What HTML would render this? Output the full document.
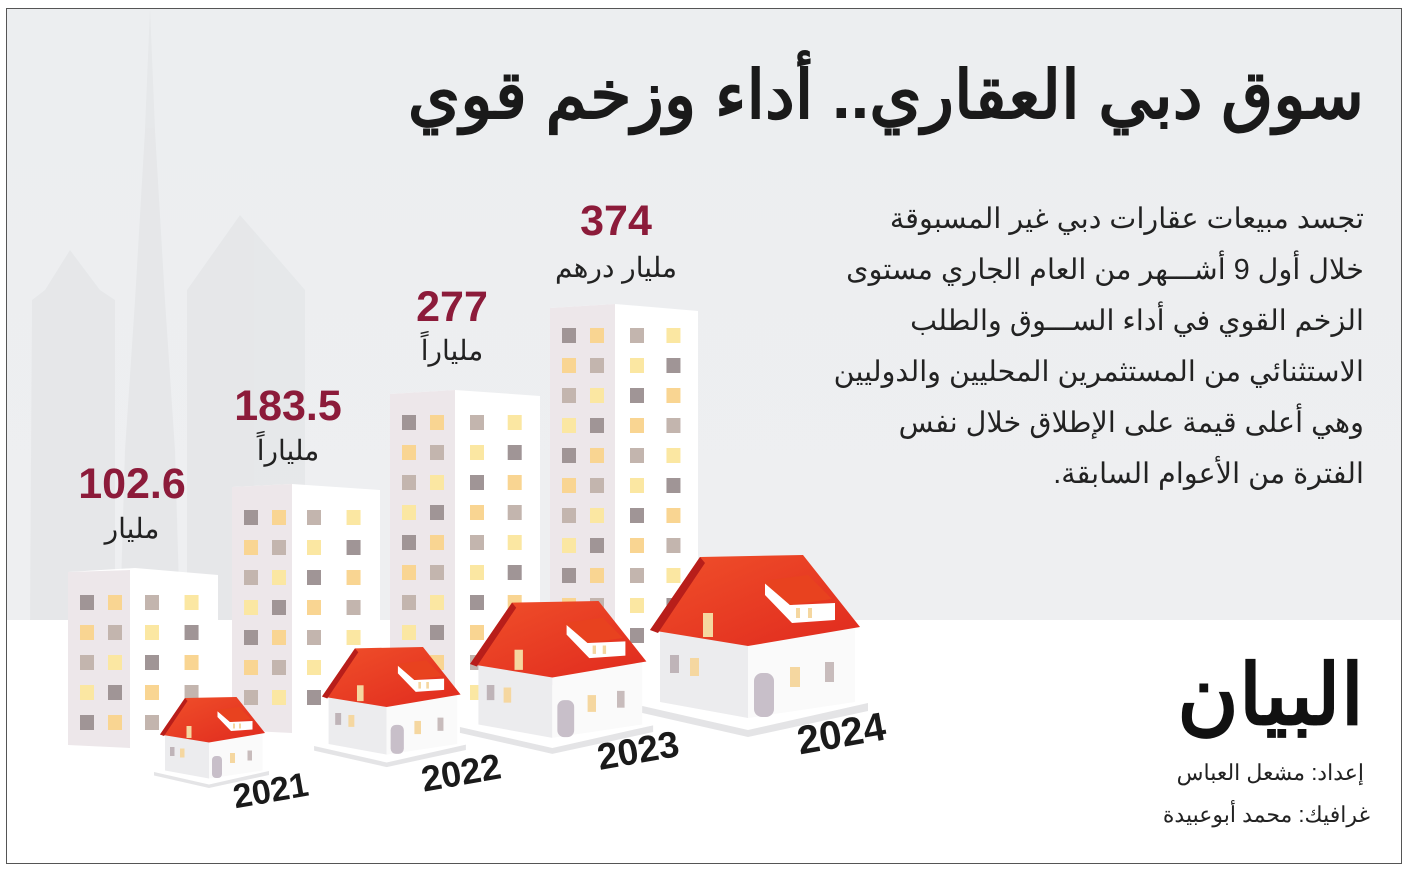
<!DOCTYPE html>
<html><head><meta charset="utf-8"><style>
html,body{margin:0;padding:0;background:#fff}
body{width:1408px;height:871px;position:relative;overflow:hidden;font-family:"Liberation Sans","Noto Sans CJK SC",sans-serif}
.t{position:absolute;white-space:nowrap}
</style></head><body>
<svg width="1408" height="871" style="position:absolute;left:0;top:0">
<defs>
<linearGradient id="bg" x1="0" y1="0" x2="0" y2="1"><stop offset="0" stop-color="#eceef0"/><stop offset="0.7" stop-color="#eeeff1"/><stop offset="1" stop-color="#f4f4f5"/></linearGradient>
<linearGradient id="roof" x1="0" y1="0" x2="1" y2="1"><stop offset="0" stop-color="#f0502a"/><stop offset="1" stop-color="#e02a1e"/></linearGradient>
<g id="house">
<polygon points="-12,150 98,175 218,148 218,156 98,182 -12,157" fill="#e4e4e6"/>
<polygon points="10,73 50,13 98,85 98,163 10,147" fill="#ececee"/>
<polygon points="98,91 205,71 205,147 98,163" fill="#fafafa"/>
<polygon points="0,75 50,2 153,0 210,72 98,91" fill="url(#roof)"/>
<polygon points="0,75 50,2 55,8 8,78" fill="#b81e1a"/>
<polygon points="115,28 140,50 185,48 185,65 142,68 115,40" fill="#fff"/>
<polygon points="112,26 158,20 182,44 140,50" fill="#e8421f"/>
<rect x="146" y="53" width="4" height="10" fill="#f5d7a0"/><rect x="158" y="53" width="4" height="10" fill="#f5d7a0"/>
<rect x="53" y="58" width="10" height="24" fill="#f5d7a0"/>
<rect x="20" y="100" width="9" height="18" fill="#bfb4b8"/><rect x="40" y="103" width="9" height="18" fill="#f5d7a0"/>
<rect x="104" y="118" width="20" height="44" rx="8" fill="#c8bfc9"/>
<rect x="140" y="112" width="10" height="20" fill="#f5d7a0"/><rect x="175" y="107" width="9" height="20" fill="#c8bcbc"/>
</g>
</defs>
<rect x="6" y="8" width="1396" height="856" fill="url(#bg)"/>
<rect x="6" y="620" width="1396" height="244" fill="#fff"/>
<g fill="#e0e1e3" opacity="0.5">
<polygon points="150,10 155,130 165,300 175,450 180,620 120,620 125,450 135,300 145,130"/>
<polygon points="32,300 45,290 70,250 100,290 115,300 115,620 30,620"/>
<polygon points="187,290 240,215 305,290 305,620 187,620"/>
</g>
<g>
<polygon points="68,572 135,568 218,575 218,750 68,745" fill="#fff"/>
<polygon points="68,572 130,570 130,748 68,745" fill="#ede7ea"/>
<polygon points="232,487 292,484 380,490 380,735 232,730" fill="#fff"/>
<polygon points="232,487 292,484 292,733 232,730" fill="#ede7ea"/>
<polygon points="390,394 455,390 540,396 540,720 390,715" fill="#fff"/>
<polygon points="390,394 455,390 455,718 390,715" fill="#ede7ea"/>
<polygon points="550,308 615,304 698,311 698,690 550,685" fill="#fff"/>
<polygon points="550,308 615,304 615,688 550,685" fill="#ede7ea"/>
</g>
<g id="wins"></g>
<use href="#house" transform="translate(650,555)"/>
<use href="#house" transform="translate(470,601) scale(0.84)"/>
<use href="#house" transform="translate(322,647) scale(0.66)"/>
<use href="#house" transform="translate(160,697) scale(0.5)"/>
</svg>
<script>
var g=document.getElementById('wins'),s='';
var B=[[68,130,218,595,745],[232,292,380,510,720],[390,455,540,415,705],[550,615,698,328,670]];
var cols=['#a09596','#f9d592','#c3b5ae','#fbe7a2'];
B.forEach(function(b){var xs=[b[0]+12,b[0]+40,b[1]+15,b[1]+(b[2]-b[1])*0.62];
for(var y=b[3],r=0;y<b[4]-15;y+=30,r++){xs.forEach(function(x,i){var c=cols[(i+r)%4];
s+='<rect x="'+x+'" y="'+y+'" width="14" height="15" fill="'+c+'"/>';});}});
g.innerHTML=s;
</script>
<div class="t" style="right:44px;top:56px;font-size:67px;font-weight:bold;color:#1a1a1a;direction:rtl">سوق دبي العقاري.. أداء وزخم قوي</div>
<div class="t" style="right:44px;top:194px;font-size:28.7px;line-height:51px;color:#222;direction:rtl;text-align:right">تجسد مبيعات عقارات دبي غير المسبوقة<br>خلال أول 9 أشـــهر من العام الجاري مستوى<br>الزخم القوي في أداء الســـوق والطلب<br>الاستثنائي من المستثمرين المحليين والدوليين<br>وهي أعلى قيمة على الإطلاق خلال نفس<br>الفترة من الأعوام السابقة.</div>
<div class="t" style="left:72px;top:460px;width:120px;text-align:center;font-size:43px;font-weight:bold;color:#8c1b3a">102.6</div>
<div class="t" style="left:72px;top:512px;width:120px;text-align:center;font-size:28px;color:#222">مليار</div>
<div class="t" style="left:220px;top:382px;width:136px;text-align:center;font-size:43px;font-weight:bold;color:#8c1b3a">183.5</div>
<div class="t" style="left:220px;top:434px;width:136px;text-align:center;font-size:28px;color:#222">ملياراً</div>
<div class="t" style="left:392px;top:283px;width:120px;text-align:center;font-size:43px;font-weight:bold;color:#8c1b3a">277</div>
<div class="t" style="left:392px;top:334px;width:120px;text-align:center;font-size:28px;color:#222">ملياراً</div>
<div class="t" style="left:540px;top:197px;width:152px;text-align:center;font-size:43px;font-weight:bold;color:#8c1b3a">374</div>
<div class="t" style="left:540px;top:251px;width:152px;text-align:center;font-size:28px;color:#222">مليار درهم</div>
<div class="t" style="left:233px;top:772px;font-size:34px;font-weight:bold;color:#1a1a1a;transform:rotate(-10deg)">2021</div>
<div class="t" style="left:421px;top:752px;font-size:36px;font-weight:bold;color:#1a1a1a;transform:rotate(-10deg)">2022</div>
<div class="t" style="left:597px;top:730px;font-size:37px;font-weight:bold;color:#1a1a1a;transform:rotate(-10deg)">2023</div>
<div class="t" style="left:797px;top:712px;font-size:40px;font-weight:bold;color:#1a1a1a;transform:rotate(-10deg)">2024</div>
<div class="t" style="right:44px;top:646px;font-size:84px;font-weight:bold;color:#111;font-family:'Liberation Serif','DejaVu Serif',serif">البيان</div>
<div class="t" style="right:44px;top:760px;font-size:22px;color:#222;direction:rtl">إعداد: مشعل العباس</div>
<div class="t" style="right:38px;top:802px;font-size:22px;color:#222;direction:rtl">غرافيك: محمد أبوعبيدة</div>
<div style="position:absolute;left:6px;top:8px;width:1394px;height:854px;border:1px solid #555"></div>
</body></html>
